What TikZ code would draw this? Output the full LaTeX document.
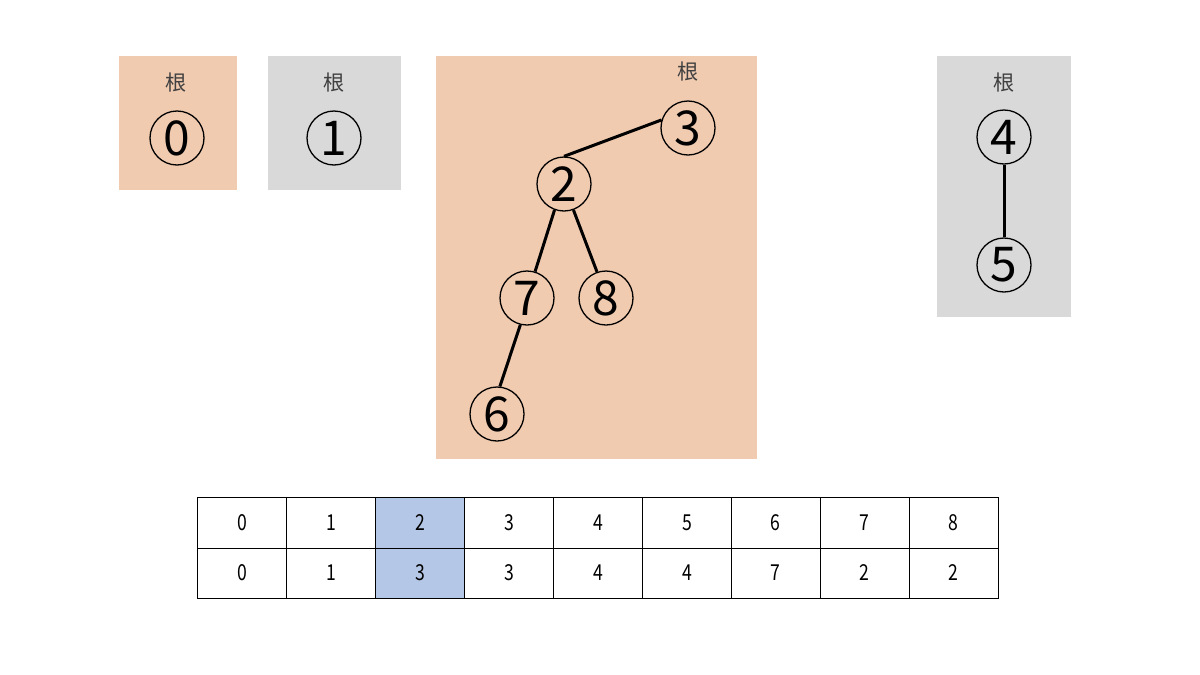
\documentclass[tikz,border=0pt]{standalone}
\usepackage{fontspec}
\setmainfont{Noto Sans CJK JP}
\newfontfamily\tabfont[FakeStretch=0.8]{Noto Sans CJK JP}
\definecolor{boxorange}{HTML}{F1CBB0}
\definecolor{boxgray}{HTML}{D9D9D9}
\definecolor{cellblue}{HTML}{B4C7E7}
\definecolor{labelgray}{HTML}{404040}
\begin{document}
\begin{tikzpicture}[x=1pt,y=-1pt,
  orangebox/.style={fill=boxorange,draw=none},
  graybox/.style={fill=boxgray,draw=none},
  rootlabel/.style={text=labelgray,font=\fontsize{21}{21}\selectfont,inner sep=0pt},
  vtx/.style={circle,draw=black,line width=1.3pt,minimum size=54pt,inner sep=0pt,font=\fontsize{48}{48}\selectfont},
  edge/.style={line width=3pt},
  cell/.style={draw=black,line width=1pt,minimum width=88.9pt,inner sep=0pt,font=\tabfont\fontsize{22}{22}\selectfont},
]
\useasboundingbox (0,0) rectangle (1200,675);
\fill[white] (0,0) rectangle (1200,675);

% boxes
\fill[orangebox] (119,56) rectangle (237,190);
\fill[graybox] (268,56) rectangle (401,190);
\fill[orangebox] (436,56) rectangle (757,459);
\fill[graybox] (937,56) rectangle (1071,317);

% root labels
\node[rootlabel] (r0) at (176,83) {根};
\node[rootlabel] (r1) at (334,83) {根};
\node[rootlabel] (r3) at (688,72) {根};
\node[rootlabel] (r4) at (1004,83) {根};

% vertices
\node[vtx] (v0) at (177,138) {0};
\node[vtx] (v1) at (334,138) {1};
\node[vtx] (v3) at (688,128) {3};
\node[vtx] (v2) at (564,184) {2};
\node[vtx] (v7) at (527,298) {7};
\node[vtx] (v8) at (606,298) {8};
\node[vtx] (v6) at (497,414) {6};
\node[vtx] (v4) at (1004,137) {4};
\node[vtx] (v5) at (1004,265) {5};

% edges
\draw[edge] (v3.163) -- (v2.90);
\draw[edge] (v2.-110) -- (v7.73);
\draw[edge] (v2.-70) -- (v8.109);
\draw[edge] (v7.-104) -- (v6.84);
\draw[edge] (v4) -- (v5);

% table
\foreach \i/\a/\b in {0/0/0,1/1/1,2/2/3,3/3/3,4/4/4,5/5/4,6/6/7,7/7/2,8/8/2}{
  \ifnum\i=2
    \node[cell,fill=cellblue,minimum height=51pt] (a\i) at ({198+88.89*\i+44.44},522.5) {\a};
    \node[cell,fill=cellblue,minimum height=50pt] (b\i) at ({198+88.89*\i+44.44},573) {\b};
  \else
    \node[cell,minimum height=51pt] (a\i) at ({198+88.89*\i+44.44},522.5) {\a};
    \node[cell,minimum height=50pt] (b\i) at ({198+88.89*\i+44.44},573) {\b};
  \fi
}
\end{tikzpicture}
\end{document}
